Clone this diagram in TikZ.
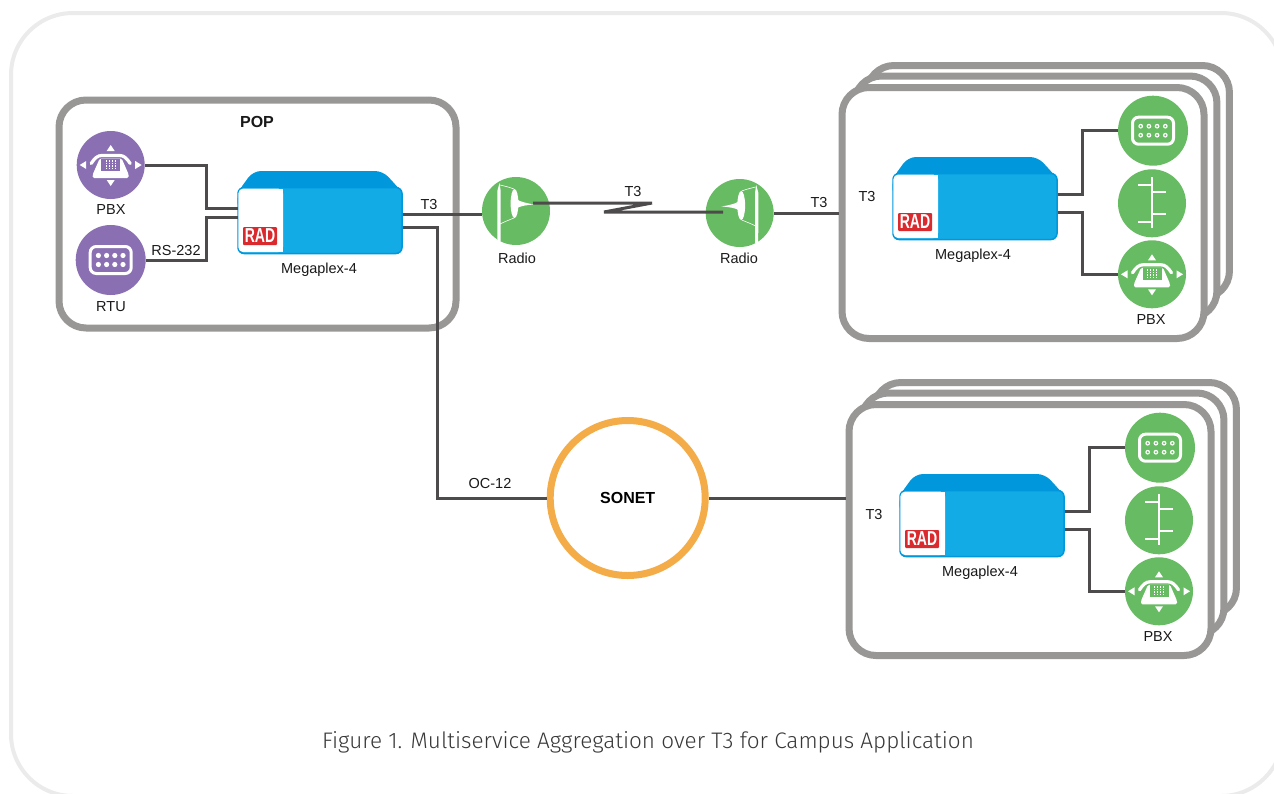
\documentclass[tikz,border=0pt]{standalone}
\usepackage{fontspec}
\setmainfont{Liberation Sans}
\newfontfamily\capfont{Fira Sans Light}
\definecolor{purp}{HTML}{8A70B2}
\definecolor{grn}{HTML}{67BB62}
\definecolor{boxgray}{HTML}{999795}
\definecolor{outerc}{HTML}{EBEBEB}
\definecolor{wirec}{HTML}{4D4B4B}
\definecolor{muxb}{HTML}{12ABE6}
\definecolor{muxd}{HTML}{0097DC}
\definecolor{radred}{HTML}{DA2A2E}
\definecolor{sonetc}{HTML}{F3AC48}
\tikzset{
  wire/.style={draw=wirec,line width=3pt,line join=miter},
  lab/.style={font=\fontsize{14.5}{16}\selectfont,inner sep=0pt,text=black!90},
  grpbox/.style={draw=boxgray,fill=white,line width=7pt,rounded corners=27pt,inner sep=0pt,rectangle},
  iconc/.style={circle,inner sep=0pt,minimum size=68pt,draw=none},
  pics/phoneicon/.style={code={
    \fill[white] (0,-20)--(-4,-14)--(4,-14)--cycle;
    \fill[white] (0,21)--(-4,15)--(4,15)--cycle;
    \fill[white] (-31,0)--(-24.5,-4)--(-24.5,4)--cycle;
    \fill[white] (31,0)--(24.5,-4)--(24.5,4)--cycle;
    \draw[white,line width=3.2pt,line cap=round] (-19.5,-1.5) .. controls (-16,-7) and (-13,-9.5) .. (-9,-9.5) -- (9,-9.5) .. controls (13,-9.5) and (16,-7) .. (19.5,-1.5);
    \fill[white,rounded corners=1.5pt] (-18,13) -- (-18,9.5) -- (-11,-6.5) -- (11,-6.5) -- (18,9.5) -- (18,13) -- cycle;
    \fill[#1] (-9.5,-6.5) rectangle (9.5,5.5);
    \foreach \dx in {-4.5,-1.5,1.5,4.5}{\draw[white,line width=1.2pt,dash pattern=on 1.5pt off 1pt] (\dx,-5)--(\dx,4.5);}
  }},
  pics/rtuicon/.style 2 args={code={
    \draw[white,line width=3pt,rounded corners=6pt] (-20.5,-13.5) rectangle (20.5,13.5);
    \foreach \dx in {-12.3,-4.1,4.1,12.3}{\foreach \dy in {-4.5,4.5}{\fill[white] (\dx,\dy) circle (#1);\fill[#2] (\dx,\dy) circle (#1*0.45);}}
  }},
  pics/busicon/.style={code={
    \draw[white,line width=1.7pt] (0,-26)--(0,25);
    \draw[white,line width=1.7pt] (-14,-18)--(0,-18) (0,-11)--(14,-11) (0,11)--(14,11) (-14,19)--(0,19);
  }},
  pics/radioicon/.style={code={
    \fill[white] (-18,-6.5) .. controls (-10,-8) and (-5,-9) .. (-1,-11.5) -- (-1,-3) .. controls (-5,-5) and (-10,-6) .. cycle;
    \fill[white] (1.5,-7.5) ellipse (3.9pt and 14.5pt);
    \draw[white,line width=.6pt] (2,-22) .. controls (7,-24) and (12,-25) .. (16,-26);
    \draw[white,line width=.6pt] (2,7) .. controls (7,9) and (12,11) .. (16,13);
    \fill[white] (16.5,-28) -- (18.7,-20) -- (18.5,30) -- (15.5,30) -- (15.3,-20) -- cycle;
  }},
  pics/muxbox/.style={code={
    \fill[muxd,rounded corners=8pt] (-82.5,-28) -- (-67,-49.5) -- (63,-49.5) -- (82.5,-28) -- (82.5,-10) -- (-82.5,-10) -- cycle;
    \node[rectangle,draw=muxd,fill=muxb,line width=1.5pt,rounded corners=6pt,minimum width=164pt,minimum height=66pt,inner sep=0pt] (-body) at (0,0) {};
    \fill[white,rounded corners=5pt] (-81.7,-32) -- (-37,-32) -- (-37,31.6) -- (-81.7,31.6) -- cycle;
    \fill[white] (-37,-32) rectangle (-50,31.6);
    \node[rectangle,fill=radred,inner sep=0pt,minimum width=34pt,minimum height=18pt,rounded corners=1pt,font=\bfseries\fontsize{18}{18}\selectfont,text=white] (-logo) at (-60,15.5) {\scalebox{0.78}[1.12]{RAD}};
    \coordinate (-w1) at (-82.5,-12.5);
    \coordinate (-w2) at (-82.5,-3.5);
    \coordinate (-e1) at (82.5,-6.5);
    \coordinate (-e2) at (82.5,6.5);
    \coordinate (-e3) at (82.5,-12);
    \coordinate (-e4) at (82.5,6);
  }},
  pics/remote/.style={code={
    \node[grpbox,minimum width=362.5pt,minimum height=232.5pt] (-back) at (1048.2,181.75) {};
    \node[grpbox,minimum width=362.5pt,minimum height=242pt] (-mid) at (1035.7,197) {};
    \node[grpbox,minimum width=362pt,minimum height=251pt] (-front) at (1023,213) {};
    \pic (-mux) at (975,206.5) {muxbox};
    \node[iconc,minimum size=70pt,fill=grn] (-rtu) at (1153,130.7) {};
    \pic at (-rtu) {rtuicon={2.4pt}{grn}};
    \node[iconc,fill=grn] (-bus) at (1152,203.3) {};
    \pic at (-bus) {busicon};
    \node[iconc,fill=grn] (-pbx) at (1152,274.3) {};
    \pic at (-pbx) {phoneicon=grn};
    \node[lab] (-pbxl) at (1151,320) {PBX};
    \node[lab] (-muxl) at (973,255.5) {Megaplex-4};
    \node[lab] (-t3l) at (867,197) {T3};
    \draw[wire] (-mux-e3) -- ++(24.5,0) |- (-rtu.west);
    \draw[wire] (-mux-e4) -- ++(24.5,0) |- (-pbx.west);
  }},
}
\begin{document}
\begin{tikzpicture}[x=1pt,y=-1pt]
\path[use as bounding box] (0,0) rectangle (1274,793);
\clip (0,0) rectangle (1274,793);
\draw[outerc,line width=4pt,rounded corners=62pt] (11,13) rectangle (1283,796);

\node[grpbox,minimum width=397pt,minimum height=228pt] (pop) at (257.5,214) {};
\node[lab,font=\bfseries\fontsize{16}{18}\selectfont] (popl) at (257,122) {POP};

\pic (a) at (0,0) {remote};
\pic (b) at (7,317) {remote};

\pic (mux) at (320,220.5) {muxbox};
\node[lab] (muxl) at (319,269.5) {Megaplex-4};

\node[iconc,fill=purp] (pbx) at (110.7,165) {};
\pic at (pbx) {phoneicon=purp};
\node[lab] (pbxl) at (111,210) {PBX};
\node[iconc,minimum size=70pt,fill=purp] (rtu) at (110.7,260) {};
\pic at (rtu) {rtuicon={2.6pt}{white}};
\node[lab] (rtul) at (111,307) {RTU};
\node[lab] (rsl) at (176,251) {RS-232};

\draw[wire] (pbx.east) -- ++(62,0) |- (mux-w1);
\draw[wire] (rtu.east) -- ++(61,0) |- (mux-w2);

\node[iconc,fill=grn] (r1) at (516,211) {};
\pic[xscale=-1] at (r1) {radioicon};
\node[lab] (r1l) at (517,258) {Radio};
\node[iconc,fill=grn] (r2) at (739.7,213) {};
\pic at (r2) {radioicon};
\node[lab] (r2l) at (739,258) {Radio};
\coordinate (r1f) at (533,203);
\coordinate (r2f) at (723,212);

\node[lab] (t3a) at (429,205) {T3};
\node[lab] (t3b) at (633,192) {T3};
\node[lab] (t3c) at (819,203) {T3};
\node[lab] (ocl) at (490,483) {OC-12};

\node[circle,draw=sonetc,fill=white,line width=7pt,minimum size=155pt,inner sep=0pt,font=\bfseries\fontsize{16}{18}\selectfont] (sonet) at (627.7,498) {SONET};

\draw[wire] (mux-e1) -- (mux-e1 -| r1.west);
\draw[wire] (r1f) -- ++(119,0) -- ++(-48,9) -- (r2f);
\draw[wire] (r2.east) -- (r2.east -| a-front.west);
\draw[wire] (mux-e2) -- ++(35,0) |- (sonet.west);
\draw[wire] (sonet.east) -- (sonet.east -| b-front.west);

\node[inner sep=0pt,text=black!78,font=\capfont\fontsize{22.5}{26}\selectfont] (cap) at (648,742) {Figure 1. Multiservice Aggregation over T3 for Campus Application};
\end{tikzpicture}
\end{document}
